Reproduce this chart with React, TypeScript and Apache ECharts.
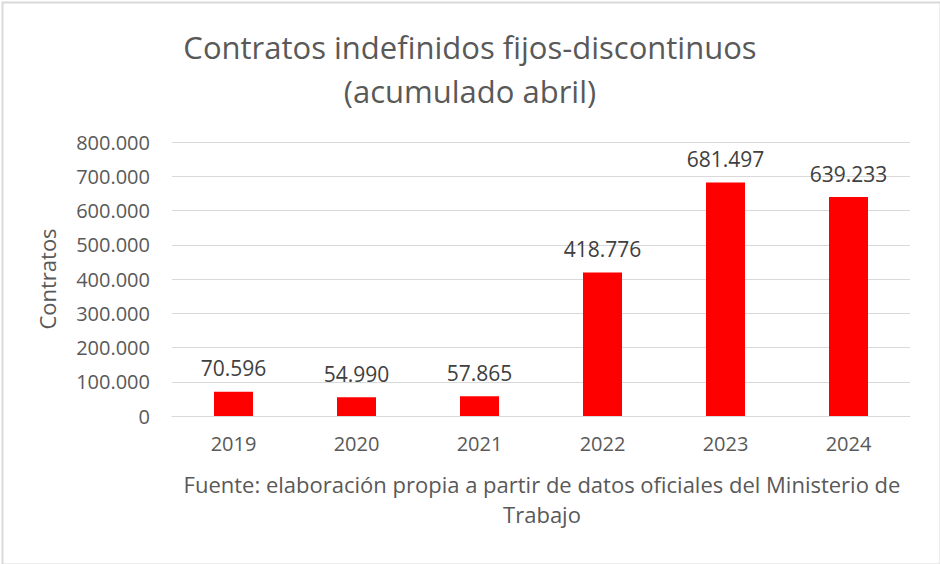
import React, { useEffect, useRef } from "react";
import * as echarts from "echarts";

const years = ["2019", "2020", "2021", "2022", "2023", "2024"];
const contratos = [70596, 54990, 57865, 418776, 681497, 639233];
const titleLines = ["Contratos indefinidos fijos-discontinuos", "(acumulado abril)"];
const yAxisName = "Contratos";
const sourceLines = ["Fuente: elaboración propia a partir de datos oficiales del Ministerio de", "Trabajo"];

const fmt = (v: number) => String(Math.round(v)).replace(/\B(?=(\d{3})+(?!\d))/g, ".");

export default function App() {
  const ref = useRef<HTMLDivElement>(null);
  useEffect(() => {
    const chart = echarts.init(ref.current!, null, { renderer: "svg" });
    const font = "'Open Sans', 'Noto Sans', sans-serif";
    chart.setOption({
      animation: false,
      backgroundColor: "#ffffff",
      textStyle: { fontFamily: font },
      title: {
        text: titleLines.join("\n"),
        left: "center",
        top: 20,
        textStyle: { fontSize: 31, fontWeight: "normal", color: "#595959", lineHeight: 44, fontFamily: font },
      },
      grid: { left: 172, right: 30, top: 142, bottom: 148 },
      xAxis: {
        type: "category",
        data: years,
        axisLine: { lineStyle: { color: "#d9d9d9", width: 1 } },
        axisTick: { show: false },
        axisLabel: { color: "#595959", fontSize: 20, margin: 17, fontFamily: font },
      },
      yAxis: {
        type: "value",
        min: 0,
        max: 800000,
        interval: 100000,
        name: yAxisName,
        nameLocation: "middle",
        nameGap: 114,
        nameTextStyle: { color: "#595959", fontSize: 22, fontFamily: font },
        axisLine: { show: false },
        axisTick: { show: false },
        splitLine: { lineStyle: { color: "#d9d9d9", width: 1 } },
        axisLabel: { color: "#595959", fontSize: 20, margin: 22, formatter: (v: number) => fmt(v), fontFamily: font },
      },
      series: [
        {
          type: "bar",
          data: contratos,
          barWidth: 39,
          itemStyle: { color: "#ff0000" },
          label: {
            show: true,
            position: "top",
            distance: 13,
            color: "#404040",
            fontSize: 21,
            fontFamily: font,
            formatter: (p: any) => fmt(p.value),
          },
        },
      ],
      graphic: [
        {
          type: "rect",
          left: 0,
          top: 0,
          shape: { x: 0.5, y: 0.5, width: 938, height: 562 },
          style: { fill: "none", stroke: "#d9d9d9", lineWidth: 2 },
          silent: true,
        },
        {
          type: "text",
          x: 542,
          y: 469,
          style: {
            text: sourceLines.join("\n"),
            fill: "#595959",
            fontSize: 22,
            lineHeight: 30,
            fontFamily: font,
            align: "center",
            verticalAlign: "top",
          },
        },
      ],
    });
    return () => chart.dispose();
  }, []);
  return <div ref={ref} style={{ position: "fixed", left: 0, top: 0, width: 940, height: 564 }} />;
}
